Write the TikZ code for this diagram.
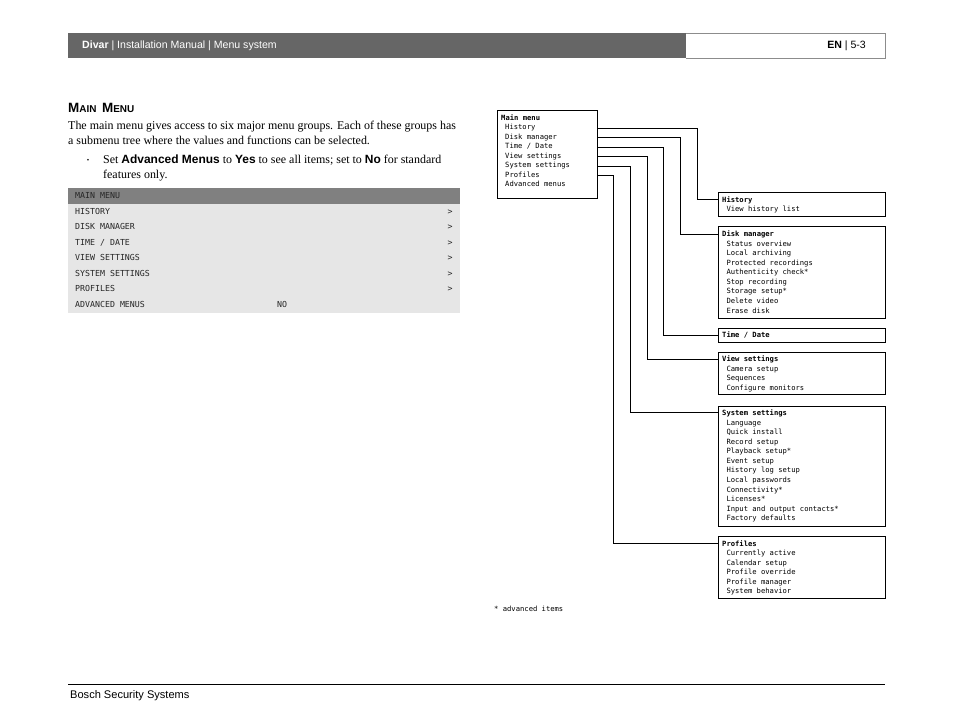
\documentclass[tikz,border=0pt]{standalone}
\usepackage{fontspec}
\setmainfont{Liberation Serif}
\setsansfont{Liberation Sans}
\newfontfamily\monofont{DejaVu Sans Mono}
\usetikzlibrary{positioning}
\definecolor{bargray}{HTML}{666666}
\definecolor{framegray}{HTML}{8C8C8C}
\definecolor{tblhead}{HTML}{808080}
\definecolor{tblrow}{HTML}{E6E6E6}
\definecolor{tbltext}{HTML}{262626}

\tikzset{
  menubox/.style={draw, line width=0.8bp, inner sep=0pt, anchor=north west, minimum width=#1},
  menubox/.default=167bp,
  mitem/.style={font=\monofont\fontsize{7.2}{9.6}\selectfont, inner sep=0pt, anchor=west, text height=5bp, text depth=1.5bp},
  mtitle/.style={mitem, font=\monofont\bfseries\fontsize{7.2}{9.6}\selectfont},
  sublist/.style={font=\monofont\fontsize{7.2}{9.6}\selectfont, inner sep=0pt, anchor=north west, align=left},
  link/.style={line width=0.8bp},
  osd/.style={font=\monofont\fontsize{8.3}{10}\selectfont, text=tbltext, inner sep=0pt, text height=5.5bp, text depth=1.5bp},
  body/.style={font=\fontsize{12}{15}\selectfont, inner sep=0pt, anchor=base west},
}

\begin{document}
\begin{tikzpicture}[x=1bp, y=-1bp]
\useasboundingbox[fill=white] (0,0) rectangle (954,715);

% page header
\fill[bargray] (68,33) rectangle (686,58);
\draw[framegray, line width=0.8bp] (686,33) -- (885,33) -- (885,58) -- (686,58);
\node[font=\sffamily\fontsize{10.6}{12}\selectfont, text=white, inner sep=0pt, anchor=west] (hdrL) at (82,45.5) {\textbf{Divar} | Installation Manual | Menu system};
\node[font=\sffamily\fontsize{10.6}{12}\selectfont, inner sep=0pt, anchor=east] (hdrR) at (866,45.5) {\textbf{EN} | 5-3};

% left column text
\node[font=\sffamily\bfseries, inner sep=0pt, anchor=base west] (title) at (68,112.5)
  {\fontsize{13.5}{14}\selectfont M\fontsize{10}{14}\selectfont AIN\ \ \fontsize{13.5}{14}\selectfont M\fontsize{10}{14}\selectfont ENU};
\node[body] (par1) at (68,130) {The main menu gives access to six major menu groups. Each of these groups has};
\node[body] (par2) at (68,145) {a submenu tree where the values and functions can be selected.};
\node[font=\fontsize{7}{7}\selectfont, inner sep=0pt] (bullet) at (88,161) {\textbullet};
\node[body] (par3) at (103,164) {Set \textsf{\textbf{Advanced Menus}} to \textsf{\textbf{Yes}} to see all items; set to \textsf{\textbf{No}} for standard};
\node[body] (par4) at (103,178.5) {features only.};

% on-screen main menu
\fill[tblhead] (68,188) rectangle (460,204);
\fill[tblrow] (68,204) rectangle (460,313);
\node[osd, anchor=west] (osdTitle) at (75,196) {MAIN MENU};
\foreach \txt [count=\i] in {HISTORY, DISK MANAGER, {TIME / DATE}, VIEW SETTINGS, SYSTEM SETTINGS, PROFILES}{
  \node[osd, anchor=west] (osd\i) at (75,196.5+15.5*\i) {\txt};
  \node[osd] (osdArrow\i) at (450,196.5+15.5*\i) {>};
}
\node[osd, anchor=west] (osd7) at (75,305) {ADVANCED MENUS};
\node[osd, anchor=west] (osdNo) at (277,305) {NO};

% menu tree
\node[menubox=100bp, minimum height=88bp] (main) at (497,110) {};
\node[mtitle] (mTitle) at (501,118.5) {Main menu};
\foreach \name/\txt [count=\i] in {mHist/History, mDisk/Disk manager, mTime/{Time / Date}, mView/View settings, mSys/System settings, mProf/Profiles, mAdv/Advanced menus}
  \node[mitem] (\name) at (505,118.5+9.5*\i) {\txt};

\node[menubox, minimum height=24bp] (bHist) at (718,192) {};
\node[sublist] (lHist) at ([xshift=4bp,yshift=-4bp]bHist.north west)
  {\textbf{History}\\~View history list};

\node[menubox, minimum height=92bp] (bDisk) at (718,226) {};
\node[sublist] (lDisk) at ([xshift=4bp,yshift=-4.5bp]bDisk.north west)
  {\textbf{Disk manager}\\~Status overview\\~Local archiving\\~Protected recordings\\~Authenticity check*\\~Stop recording\\~Storage setup*\\~Delete video\\~Erase disk};

\node[menubox, minimum height=14bp] (bTime) at (718,328) {};
\node[sublist] (lTime) at ([xshift=4bp,yshift=-3.5bp]bTime.north west) {\textbf{Time / Date}};

\node[menubox, minimum height=42bp] (bView) at (718,352) {};
\node[sublist] (lView) at ([xshift=4bp,yshift=-3.5bp]bView.north west)
  {\textbf{View settings}\\~Camera setup\\~Sequences\\~Configure monitors};

\node[menubox, minimum height=120bp] (bSys) at (718,406) {};
\node[sublist] (lSys) at ([xshift=4bp,yshift=-3.5bp]bSys.north west)
  {\textbf{System settings}\\~Language\\~Quick install\\~Record setup\\~Playback setup*\\~Event setup\\~History log setup\\~Local passwords\\~Connectivity*\\~Licenses*\\~Input and output contacts*\\~Factory defaults};

\node[menubox, minimum height=62bp] (bProf) at (718,536) {};
\node[sublist] (lProf) at ([xshift=4bp,yshift=-4bp]bProf.north west)
  {\textbf{Profiles}\\~Currently active\\~Calendar setup\\~Profile override\\~Profile manager\\~System behavior};

% connectors
\draw[link] (main.east |- mHist) -- ++(100,0) |- ([yshift=-7bp]bHist.north west);
\draw[link] (main.east |- mDisk) -- ++(83,0) |- ([yshift=-8bp]bDisk.north west);
\draw[link] (main.east |- mTime) -- ++(66,0) |- ([yshift=-7bp]bTime.north west);
\draw[link] (main.east |- mView) -- ++(50,0) |- ([yshift=-7bp]bView.north west);
\draw[link] (main.east |- mSys) -- ++(33,0) |- ([yshift=-6.5bp]bSys.north west);
\draw[link] (main.east |- mProf) -- ++(16,0) |- ([yshift=-7.5bp]bProf.north west);

\node[mitem] (note) at (494,610) {* advanced items};

% page footer
\draw[line width=0.8bp] (68,684) -- (885,684);
\node[font=\sffamily\fontsize{11.1}{12}\selectfont, inner sep=0pt, anchor=west] (footer) at (70,696) {Bosch Security Systems};
\end{tikzpicture}
\end{document}
